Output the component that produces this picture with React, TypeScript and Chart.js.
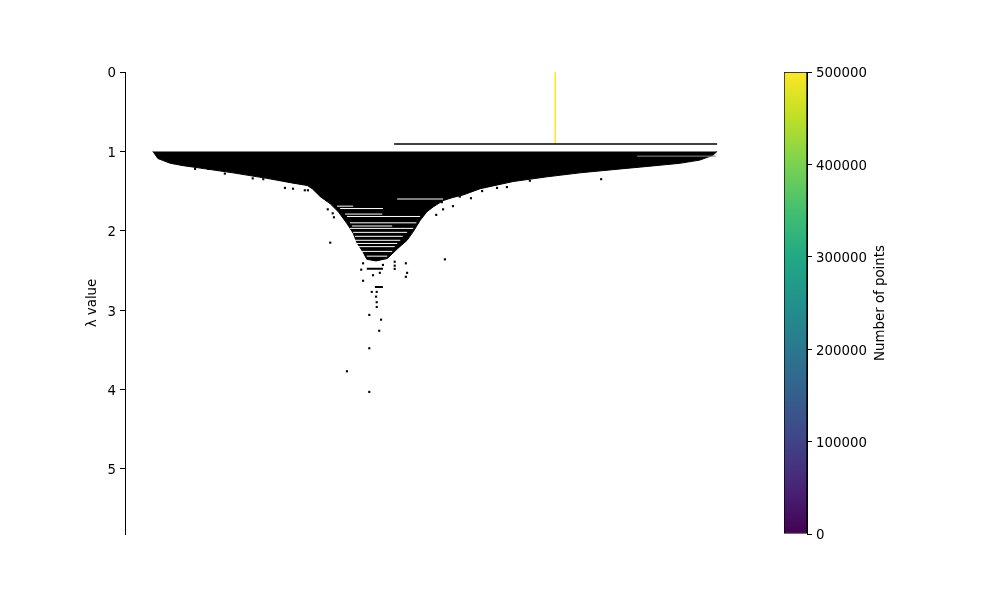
import React, { useEffect, useRef } from 'react';
import { Chart, registerables } from 'chart.js';
Chart.register(...registerables);

// ---------- data ----------
const lambdaTicks = [0, 1, 2, 3, 4, 5];
const lambdaMin = 0;
const lambdaMax = 5.82;
const xMin = 0;
const xMax = 100;
const yLabel = 'λ value';
const colorbarLabel = 'Number of points';

// root cluster (vertical bar, coloured by point count)
const rootX = 69.4;
const rootLambda = [0, 0.907];
const rootCount = 500000;
// horizontal split line of the root
const rootSplit: [number, number, number] = [43.4, 95.5, 0.907];

// the dense mass of child clusters: top at lambda = 1, bottom edge below
const massTop = 1.0;
const massBottom: [number, number][] = [
  [4.5, 1.0], [5.3, 1.09], [7.3, 1.15], [9.4, 1.18], [12.1, 1.21], [17.4, 1.27],
  [22.9, 1.34], [27.1, 1.4], [29.4, 1.43], [30.2, 1.47], [31.5, 1.57], [33.1, 1.66],
  [34.4, 1.76], [35.8, 1.91], [36.8, 2.03], [37.4, 2.15], [38.4, 2.27], [39.0, 2.36],
  [40.5, 2.38], [42.3, 2.35], [43.9, 2.23], [45.5, 2.12], [46.5, 2.01], [47.6, 1.87],
  [48.7, 1.76], [49.7, 1.7], [51.3, 1.62], [52.9, 1.58], [54.5, 1.55], [57.3, 1.47],
  [62.6, 1.38], [68.1, 1.32], [73.4, 1.27], [78.7, 1.23], [84.2, 1.19], [89.5, 1.15],
  [92.7, 1.11], [94.8, 1.05], [95.5, 1.0],
];

// white gaps between child clusters inside the mass: [x start, x end, lambda]
const gaps: [number, number, number][] = [
  [43.9, 51.3, 1.6],
  [34.2, 36.8, 1.69],
  [34.7, 41.6, 1.72],
  [35.5, 41.5, 1.79],
  [35.8, 47.6, 1.82],
  [36.3, 47.0, 1.9],
  [36.6, 43.1, 1.94],
  [36.3, 46.5, 1.97],
  [36.8, 45.5, 2.02],
  [37.1, 44.8, 2.07],
  [37.1, 44.4, 2.12],
  [37.4, 43.9, 2.16],
  [37.6, 43.5, 2.2],
  [38.2, 43.1, 2.26],
  [39.0, 42.3, 2.32],
];
const faintLines: [number, number, number][] = [[82.6, 95.3, 1.06]];

// small clusters below the mass
const smallClusters: [number, number, number][] = [
  [39.0, 41.6, 2.48],
  [40.3, 41.6, 2.71],
];

// isolated points falling out of clusters: [x, lambda]
const outliers: [number, number][] = [
  [11.3, 1.22], [13.4, 1.22], [16.1, 1.28], [20.6, 1.34], [22.3, 1.35],
  [25.8, 1.46], [27.1, 1.47], [29.0, 1.49], [29.5, 1.49],
  [32.7, 1.73], [33.5, 1.78], [33.7, 1.83], [33.1, 2.15],
  [50.2, 1.8], [51.1, 1.64], [51.3, 1.73], [52.9, 1.69], [54.0, 1.57],
  [55.8, 1.59], [57.6, 1.5], [60.0, 1.46], [61.6, 1.45], [65.3, 1.37], [76.8, 1.35],
  [51.6, 2.36],
  [38.4, 2.41], [41.6, 2.43], [43.5, 2.39], [43.5, 2.44], [45.3, 2.41],
  [38.1, 2.49], [41.1, 2.53], [40.0, 2.56], [43.5, 2.48], [45.5, 2.53], [45.3, 2.58],
  [38.4, 2.63], [39.8, 2.77], [40.6, 2.77], [40.5, 2.83], [40.6, 2.9], [40.6, 2.96],
  [39.4, 3.06], [41.3, 3.12], [41.0, 3.26], [39.4, 3.48], [35.8, 3.77], [39.4, 4.03],
];

// colour bar
const colorbarTicks = [0, 100000, 200000, 300000, 400000, 500000];
const colorbarRange: [number, number] = [0, 500000];
const viridis = [
  '#440154', '#482475', '#414487', '#355f8d', '#2a788e', '#21918c',
  '#22a884', '#44bf70', '#7ad151', '#bddf26', '#fde725',
];

// ---------- helpers ----------
const segs = (arr: [number, number, number][]) =>
  arr.flatMap(([a, b, l]) => [{ x: a, y: l }, { x: b, y: l }, { x: b, y: null }]);

const viridisAt = (t: number) => {
  const i = Math.min(viridis.length - 1, Math.round(t * (viridis.length - 1)));
  return viridis[i];
};

const FONT = { family: '"DejaVu Sans", sans-serif', size: 13.33 };

export default function App() {
  const mainRef = useRef<HTMLCanvasElement | null>(null);
  const cbRef = useRef<HTMLCanvasElement | null>(null);

  useEffect(() => {
    Chart.defaults.color = '#000';
    Chart.defaults.font.family = FONT.family;
    Chart.defaults.font.size = FONT.size;

    const lineDs = (data: any[], color: string, width: number, order: number) => ({
      type: 'line' as const,
      data,
      borderColor: color,
      backgroundColor: color,
      borderWidth: width,
      pointRadius: 0,
      showLine: true,
      fill: false,
      spanGaps: false,
      order,
    });

    const main = new Chart(mainRef.current!, {
      type: 'line',
      data: {
        datasets: [
          {
            type: 'line',
            data: outliers.map(([x, y]) => ({ x, y })),
            showLine: false,
            pointStyle: 'rect',
            pointRadius: 1.5,
            pointBorderWidth: 0,
            pointBackgroundColor: '#000',
            borderColor: '#000',
            order: 0,
          } as any,
          lineDs(segs(smallClusters), '#000', 2, 1),
          lineDs(segs([rootSplit]), '#000', 1.5, 1),
          lineDs(rootLambda.map((y) => ({ x: rootX, y })), viridisAt(rootCount / colorbarRange[1]), 1, 1),
          lineDs(segs(gaps), '#ffffff', 1, 2),
          lineDs(segs(faintLines), '#8a8a8a', 1, 2),
          {
            type: 'line',
            data: massBottom.map(([x, y]) => ({ x, y })),
            borderColor: '#000',
            backgroundColor: '#000',
            borderWidth: 1,
            pointRadius: 0,
            fill: { value: massTop },
            order: 3,
          } as any,
        ],
      },
      options: {
        animation: false,
        responsive: false,
        devicePixelRatio: 1,
        events: [],
        layout: { padding: { left: 81, top: 72, right: 255, bottom: 66 } },
        plugins: { legend: { display: false }, tooltip: { enabled: false } },
        scales: {
          x: { type: 'linear', min: xMin, max: xMax, display: false },
          y: {
            type: 'linear',
            min: lambdaMin,
            max: lambdaMax,
            reverse: true,
            afterBuildTicks: (axis: any) => {
              axis.ticks = lambdaTicks.map((v) => ({ value: v }));
            },
            afterFit: (axis: any) => {
              axis.width = 44;
            },
            ticks: { padding: 4, labelOffset: 2, color: '#000', font: FONT, callback: (v: any) => String(v) },
            grid: { drawOnChartArea: false, drawTicks: true, tickLength: 5, color: '#000', lineWidth: 1 },
            border: { display: true, color: '#000', width: 1 },
            title: { display: true, text: yLabel, color: '#000', font: FONT, padding: { top: 4, bottom: 4 } },
          },
        },
      },
    });

    const cbTitle = {
      id: 'cbTitle',
      afterDraw(chart: any) {
        const s = chart.scales.y;
        const ctx = chart.ctx;
        ctx.save();
        ctx.font = `${FONT.size}px ${FONT.family}`;
        ctx.fillStyle = '#000';
        ctx.textAlign = 'center';
        ctx.textBaseline = 'middle';
        ctx.translate(s.right - 11, (s.top + s.bottom) / 2);
        ctx.rotate(-Math.PI / 2);
        ctx.fillText(colorbarLabel, 0, 0);
        ctx.restore();
      },
    };

    const cb = new Chart(cbRef.current!, {
      type: 'bar',
      data: {
        labels: [''],
        datasets: [
          {
            data: [colorbarRange] as any,
            backgroundColor: (c: any) => {
              const area = c.chart.chartArea;
              if (!area) return viridis[5];
              const g = c.chart.ctx.createLinearGradient(0, area.bottom, 0, area.top);
              viridis.forEach((col, i) => g.addColorStop(i / (viridis.length - 1), col));
              return g;
            },
            borderColor: '#000',
            borderWidth: 1,
            borderSkipped: false,
            barPercentage: 1,
            categoryPercentage: 1,
          } as any,
        ],
      },
      options: {
        animation: false,
        responsive: false,
        devicePixelRatio: 1,
        events: [],
        layout: { padding: { left: 784, top: 72, right: 108, bottom: 66 } },
        plugins: { legend: { display: false }, tooltip: { enabled: false } },
        scales: {
          x: { display: false },
          y: {
            position: 'right',
            min: colorbarRange[0],
            max: colorbarRange[1],
            afterBuildTicks: (axis: any) => {
              axis.ticks = colorbarTicks.map((v) => ({ value: v }));
            },
            afterFit: (axis: any) => {
              axis.width = 85;
            },
            ticks: { padding: 4, labelOffset: 2, color: '#000', font: FONT, callback: (v: any) => String(v) },
            grid: { drawOnChartArea: false, drawTicks: true, tickLength: 5, color: '#000', lineWidth: 1 },
            border: { display: true, color: '#000', width: 1 },
          },
        },
      },
      plugins: [cbTitle],
    });

    return () => {
      main.destroy();
      cb.destroy();
    };
  }, []);

  const cv: React.CSSProperties = { position: 'absolute', left: 0, top: 0, width: 1000, height: 600 };
  return (
    <div style={{ position: 'fixed', left: 0, top: 0, width: 1000, height: 600, background: '#fff' }}>
      <canvas ref={mainRef} width={1000} height={600} style={cv} />
      <canvas ref={cbRef} width={1000} height={600} style={cv} />
    </div>
  );
}
